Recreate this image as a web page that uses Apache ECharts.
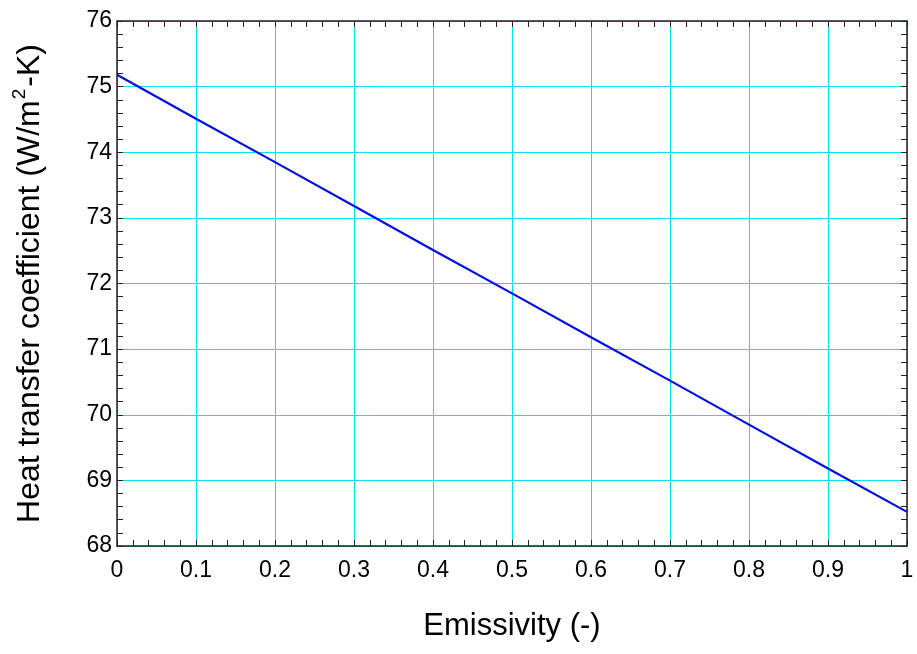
<!DOCTYPE html>
<html><head><meta charset="utf-8">
<script src="https://cdn.jsdelivr.net/npm/echarts@6/dist/echarts.min.js"></script>
<style>html,body{margin:0;padding:0;background:#fff}#c{width:917px;height:654px}</style>
</head><body><div id="c"></div>
<script>
const emissivity = [0, 0.1, 0.2, 0.3, 0.4, 0.5, 0.6, 0.7, 0.8, 0.9, 1.0];
const htc = [75.18, 74.51, 73.85, 73.18, 72.51, 71.85, 71.18, 70.52, 69.85, 69.18, 68.52];
const xTicks = [0, 0.1, 0.2, 0.3, 0.4, 0.5, 0.6, 0.7, 0.8, 0.9, 1];
const yTicks = [68, 69, 70, 71, 72, 73, 74, 75, 76];

const font = 'Liberation Sans, Arial, sans-serif';
const axisCol = '#222';
const chart = echarts.init(document.getElementById('c'));
const baseX = {
  type: 'value', min: 0, max: 1, interval: 0.1,
  axisLine: {show: true, onZero: false, lineStyle: {color: axisCol, width: 1.5}},
  axisTick: {show: true, inside: true, length: 6, lineStyle: {color: axisCol}},
  minorTick: {show: true, splitNumber: 5, length: 6, lineStyle: {color: axisCol}},
  splitLine: {show: false}
};
const baseY = {
  type: 'value', min: 68, max: 76, interval: 1,
  axisLine: {show: true, onZero: false, lineStyle: {color: axisCol, width: 1.5}},
  axisTick: {show: true, inside: true, length: 6, lineStyle: {color: axisCol}},
  minorTick: {show: true, splitNumber: 5, length: 6, lineStyle: {color: axisCol}},
  splitLine: {show: false}
};
chart.setOption({
  animation: false,
  grid: {left: 117, right: 10, top: 21, bottom: 108, containLabel: false},
  xAxis: [
    Object.assign({}, baseX, {
      position: 'bottom',
      name: 'Emissivity (-)', nameLocation: 'middle', nameGap: 65,
      nameTextStyle: {fontFamily: font, fontSize: 31, color: '#000'},
      splitLine: {show: true, lineStyle: {color: '#00e5f0', width: 1}},
      axisLabel: {fontFamily: font, fontSize: 23, color: '#000', margin: 13,
        formatter: v => String(+v.toFixed(1))}
    }),
    Object.assign({}, baseX, {position: 'top', axisLabel: {show: false}})
  ],
  yAxis: [
    Object.assign({}, baseY, {
      position: 'left',
      name: '{a|Heat transfer coefficient (W/m}{b|2}{a|-K)}',
      nameLocation: 'middle', nameGap: 71, nameRotate: 90,
      nameTextStyle: {fontFamily: font, fontSize: 32, color: '#000',
        rich: {a: {fontFamily: font, fontSize: 32, color: '#000', lineHeight: 36, verticalAlign: 'bottom'},
               b: {fontFamily: font, fontSize: 19, color: '#000', lineHeight: 36, verticalAlign: 'top', padding: [0,2,16,1]}}},
      splitLine: {show: true, lineStyle: {color: '#00e5f0', width: 1}},
      axisLabel: {fontFamily: font, fontSize: 23, color: '#000', margin: 5}
    }),
    Object.assign({}, baseY, {position: 'right', axisLabel: {show: false}})
  ],
  series: [{
    type: 'line', xAxisIndex: 0, yAxisIndex: 0,
    data: emissivity.map((x, i) => [x, htc[i]]),
    showSymbol: false, symbol: 'none',
    lineStyle: {color: '#0010e0', width: 2.2}
  }]
});
</script></body></html>
